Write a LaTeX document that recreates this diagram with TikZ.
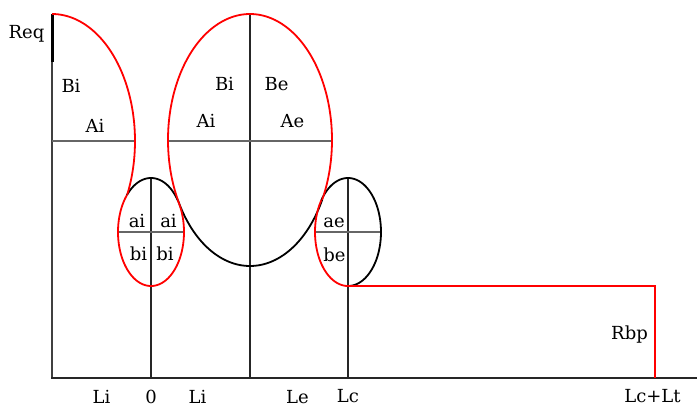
\documentclass[tikz,border=0pt]{standalone}
\usepackage{fontspec}
\setmainfont{DejaVu Serif}
\begin{document}
\begin{tikzpicture}[x=1pt,y=-1pt,
  redline/.style={draw=red,line width=1.8pt},
  blackcurve/.style={draw=black,line width=1.8pt},
  grayline/.style={draw=black!60,line width=1.5pt},
  vline/.style={draw=black!85,line width=1.3pt},
  lbl/.style={anchor=base,inner sep=0pt,font=\fontsize{18}{21}\selectfont}]
\useasboundingbox (0,0) rectangle (697,407);
% axes
\draw[draw=black!75,line width=1.6pt] (52,14) -- (52,378);
\draw[draw=black,line width=3pt] (52,14) -- (52,62);
\draw[draw=black!85,line width=2.2pt] (51,378) -- (697,378);
% vertical lines
\draw[vline] (151,178) -- (151,378);
\draw[vline] (250,14) -- (250,378);
\draw[vline] (348,178) -- (348,378);
% horizontal lines
\draw[grayline] (52,141) -- (135,141);
\draw[grayline] (168,141) -- (332,141);
\draw[grayline] (118,232) -- (184,232);
\draw[grayline] (315,232) -- (381,232);
% black arcs
\draw[blackcurve] plot[domain=-137:-36,samples=60] ({151+33*cos(\x)},{232+54*sin(\x)});
\draw[blackcurve] plot[domain=28.4:151.6,samples=80] ({250+82*cos(\x)},{140+126*sin(\x)});
\draw[blackcurve] plot[domain=216:450,samples=100] ({348+33*cos(\x)},{232+54*sin(\x)});
% red outline
\draw[redline] plot[domain=-90:25,samples=80] ({52+83*cos(\x)},{141+127*sin(\x)});
\draw[redline] plot[domain=-36:223,samples=120] ({151+33*cos(\x)},{232+54*sin(\x)});
\draw[redline] plot[domain=151.6:388.4,samples=140] ({250+82*cos(\x)},{140+126*sin(\x)});
\draw[redline] plot[domain=90:216,samples=60] ({348+33*cos(\x)},{232+54*sin(\x)});
\coordinate (rb1) at (348,286);
\coordinate (rb2) at (655,286);
\coordinate (rb3) at (655,378);
\draw[redline,line join=miter] (rb1) -- (rb2) -- (rb3);
% labels
\node[lbl] (req) at (26.5,38.3) {Req};
\node[lbl] (bi1) at (71,92) {Bi};
\node[lbl] (ai1) at (95,132) {Ai};
\node[lbl] (bi2) at (224.5,90) {Bi};
\node[lbl] (be2) at (276.5,90) {Be};
\node[lbl] (ai2) at (206,127) {Ai};
\node[lbl] (ae2) at (292.5,127) {Ae};
\node[lbl] (ai3) at (137,227) {ai};
\node[lbl] (ai4) at (168.5,227) {ai};
\node[lbl] (bi3) at (138.5,260) {bi};
\node[lbl] (bi4) at (165,260) {bi};
\node[lbl] (ae3) at (334,227) {ae};
\node[lbl] (be3) at (334.5,261) {be};
\node[lbl] (rbp) at (629.5,339) {Rbp};
\node[lbl] (lclt) at (652.5,402) {Lc+Lt};
\node[lbl] (li1) at (101.5,403.5) {Li};
\node[lbl] (zero) at (151,403.5) {0};
\node[lbl] (li2) at (197.5,403.5) {Li};
\node[lbl] (le) at (297.5,403.5) {Le};
\node[lbl] (lc) at (348,402) {Lc};
\end{tikzpicture}
\end{document}
